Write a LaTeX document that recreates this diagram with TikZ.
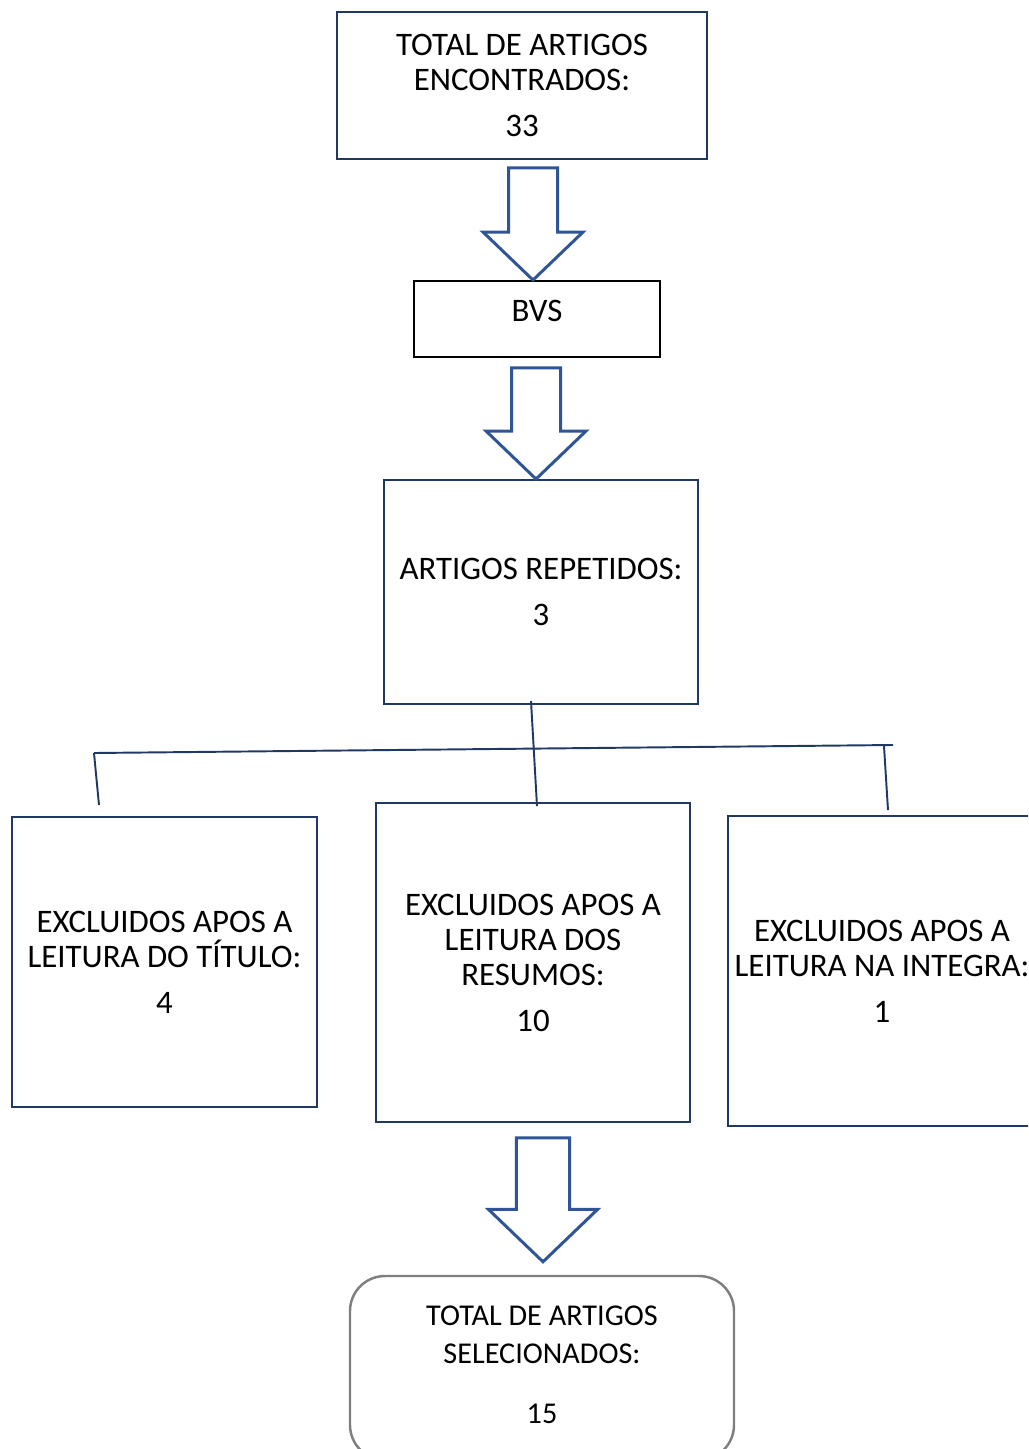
\documentclass[tikz,border=0pt]{standalone}
\usepackage{fontspec}
\setmainfont{Carlito}
\usetikzlibrary{calc}
\definecolor{boxnavy}{HTML}{1F3864}
\definecolor{arrowblue}{HTML}{2F5597}
\definecolor{roundgray}{HTML}{7F7F7F}
\newlength\px
\setlength\px{0.02cm}
% hollow down arrow: from node, to node, x shift, top gap, tip gap, scale
\newcommand{\bigarrow}[6]{%
  \coordinate (at) at ($(#1.south -| #2.north)+(#3,#4)$);
  \coordinate (ap) at ($(#2.north)+(#3,-#5)$);
  \draw [BigArrow] ($(at)+({-24.5*#6},0)$) -- ($(at)+({24.5*#6},0)$) -- ($(ap)+({24.5*#6},{-48*#6})$) -- ($(ap)+({50*#6},{-48*#6})$) -- (ap) -- ($(ap)+({-50*#6},{-48*#6})$) -- ($(ap)+({-24.5*#6},{-48*#6})$) -- cycle;}
\begin{document}
\begin{tikzpicture}[x=0.02cm, y=-0.02cm]
		\tikzstyle{NavyBox} = [rectangle, draw=boxnavy, line width=1.1pt, fill=white, align=center, inner sep=0pt, font=\fontsize{18.7}{19.9}\selectfont]
		\tikzstyle{BlackBox} = [rectangle, draw=black, line width=1.1pt, fill=white, align=center, inner sep=0pt, font=\fontsize{18.7}{19.9}\selectfont]
		\tikzstyle{GrayBox} = [rectangle, rounded corners=0.7cm, draw=roundgray, line width=1.4pt, fill=white, align=center, inner sep=0pt, font=\fontsize{17.2}{21.6}\selectfont]
		\tikzstyle{Link} = [draw=boxnavy, line width=1.1pt]
		\tikzstyle{BigArrow} = [draw=arrowblue, line width=1.7pt, fill=white, line join=miter]
		
		\useasboundingbox (0,0) rectangle (1028,1449);
		\clip (0,0) rectangle (1028,1449);
		\node (total) [NavyBox, minimum width=370\px, minimum height=147\px] at (522,85.5) {TOTAL DE ARTIGOS\\ENCONTRADOS:\\[0.22cm]33};
		\node (bvs) [BlackBox, minimum width=246\px, minimum height=76\px, text depth=16\px] at (537,319) {BVS};
		\node (rep) [NavyBox, minimum width=314\px, minimum height=224\px] at (541,592) {ARTIGOS REPETIDOS:\\[0.22cm]3};
		\node (left) [NavyBox, minimum width=305\px, minimum height=290\px] at (164.5,962) {EXCLUIDOS APOS A\\LEITURA DO TÍTULO:\\[0.22cm]4};
		\node (mid) [NavyBox, minimum width=314\px, minimum height=319\px] at (533,962.5) {EXCLUIDOS APOS A\\LEITURA DOS\\RESUMOS:\\[0.22cm]10};
		\node (right) [NavyBox, minimum width=308\px, minimum height=310\px] at (882,971) {EXCLUIDOS APOS A\\LEITURA NA INTEGRA:\\[0.22cm]1};
		\node (final) [GrayBox, minimum width=384\px, minimum height=184\px, text depth=6\px] at (542,1368) {TOTAL DE ARTIGOS\\SELECIONADOS:\\[0.44cm]15};
		
		\coordinate (hl) at (94,753);
		\coordinate (hr) at (893,745);
		\draw [Link] ($(rep.south)+(-10,-4)$) -- ($(mid.north)+(4,4)$);
		\draw [Link] (hl) -- (hr);
		\draw [Link] (hl) -- ($(left.north)+(-65.5,-11)$);
		\draw [Link] ($(hr)+(-9,1)$) -- ($(right.north)+(6,-5)$);
		
		\bigarrow{total}{bvs}{-4}{8}{0}{1}
		\bigarrow{bvs}{rep}{-5}{10}{0}{1}
		\bigarrow{mid}{final}{1}{15}{13}{1.09}
		\end{tikzpicture}
\end{document}
